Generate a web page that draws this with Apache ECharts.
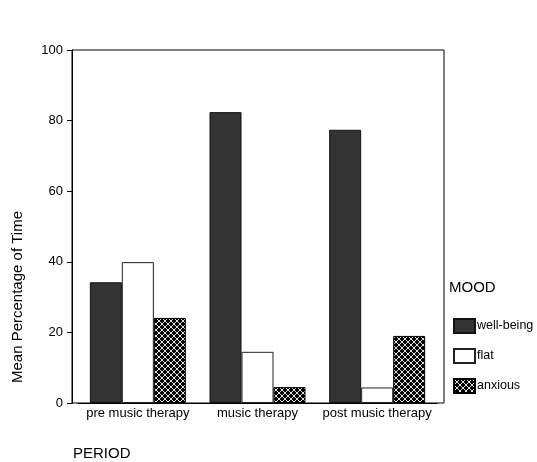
<!DOCTYPE html>
<html>
<head>
<meta charset="utf-8">
<script src="https://cdn.jsdelivr.net/npm/echarts@6/dist/echarts.min.js"></script>
<style>
html,body{margin:0;padding:0;background:#fff;}
#chart{width:537px;height:462px;}
</style>
</head>
<body>
<div id="chart"></div>
<script>
var categories = ['pre music therapy', 'music therapy', 'post music therapy'];
var seriesNames = ['well-being', 'flat', 'anxious'];
var wellBeing = [34.2, 82.4, 77.4];
var flat = [39.9, 14.5, 4.4];
var anxious = [24.1, 4.5, 19.0];
var yMin = 0, yMax = 100, yStep = 20;

var FONT = '"Liberation Sans", Arial, sans-serif';

// cross-hatch pattern
var pc = document.createElement('canvas');
pc.width = 6; pc.height = 6;
var g = pc.getContext('2d');
g.fillStyle = '#000';
g.fillRect(0, 0, 6, 6);
g.strokeStyle = '#e0e0e0';
g.lineWidth = 1;
g.beginPath();
g.moveTo(0, 0); g.lineTo(6, 6);
g.moveTo(6, 0); g.lineTo(0, 6);
g.stroke();
var hatch = {image: pc, repeat: 'repeat'};

var chart = echarts.init(document.getElementById('chart'), null, {renderer: 'canvas'});
chart.setOption({
  animation: false,
  backgroundColor: '#fff',
  textStyle: {fontFamily: FONT},
  grid: [
    {left: 78, right: 100, top: 50, bottom: 59, containLabel: false},
    {left: 72, right: 93, top: 50, bottom: 59, show: true, borderColor: '#000', borderWidth: 1, backgroundColor: 'transparent'}
  ],
  xAxis: [
    {
      type: 'category', gridIndex: 0, data: categories,
      axisLine: {lineStyle: {color: '#000', width: 1}},
      axisTick: {alignWithLabel: true, length: 4, lineStyle: {color: '#000'}},
      axisLabel: {color: '#000', fontSize: 13, fontFamily: FONT, margin: 4, interval: 0}
    },
    {type: 'value', gridIndex: 1, show: false}
  ],
  yAxis: [
    {
      type: 'value', gridIndex: 0, min: yMin, max: yMax, interval: yStep, offset: 6,
      axisLine: {show: true, lineStyle: {color: '#000', width: 1}},
      axisTick: {show: true, length: 5, lineStyle: {color: '#000'}},
      axisLabel: {color: '#000', fontSize: 13, fontFamily: FONT, margin: 9},
      splitLine: {show: false}
    },
    {type: 'value', gridIndex: 1, show: false}
  ],
  legend: {
    orient: 'vertical', left: 453, top: 318, padding: 0,
    itemWidth: 21, itemHeight: 14, itemGap: 14,
    icon: 'rect',
    data: seriesNames,
    textStyle: {color: '#000', fontSize: 12.5, fontFamily: FONT, padding: [0, 0, 0, -3]}
  },
  graphic: [
    {type: 'text', x: 18, y: 297, rotation: Math.PI / 2,
     style: {text: 'Mean Percentage of Time', font: '15px ' + FONT, fill: '#000', align: 'center', verticalAlign: 'middle'}},
    {type: 'text', x: 73, y: 454,
     style: {text: 'PERIOD', font: '15px ' + FONT, fill: '#000', align: 'left', verticalAlign: 'middle'}},
    {type: 'text', x: 449, y: 288,
     style: {text: 'MOOD', font: '15px ' + FONT, fill: '#000', align: 'left', verticalAlign: 'middle'}}
  ],
  series: [
    {name: seriesNames[0], type: 'bar', data: wellBeing, barWidth: 32, barGap: '0%',
     itemStyle: {color: '#333333', borderColor: '#111', borderWidth: 1}},
    {name: seriesNames[1], type: 'bar', data: flat, barWidth: 32, barGap: '0%',
     itemStyle: {color: '#ffffff', borderColor: '#222', borderWidth: 1}},
    {name: seriesNames[2], type: 'bar', data: anxious, barWidth: 32, barGap: '0%',
     itemStyle: {color: hatch, borderColor: '#000', borderWidth: 1}}
  ]
});
</script>
</body>
</html>
